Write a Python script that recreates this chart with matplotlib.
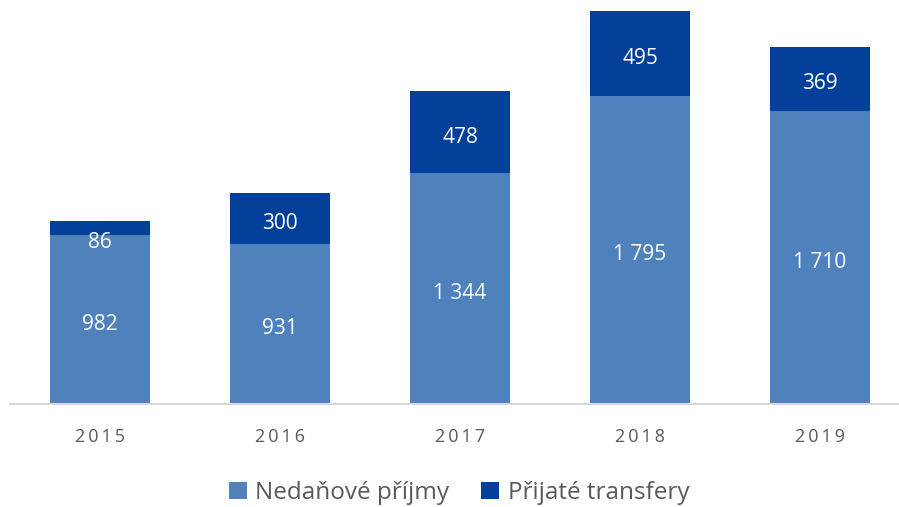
import matplotlib
matplotlib.use("Agg")
import matplotlib.pyplot as plt
import numpy as np

years = ["2015", "2016", "2017", "2018", "2019"]
nedanove = [982, 931, 1344, 1795, 1710]
transfery = [86, 300, 478, 495, 369]
legend_labels = ["Nedaňové příjmy", "Přijaté transfery"]

c_light = "#4f81bd"
c_dark = "#03409a"

plt.rcParams["font.family"] = ["Open Sans", "DejaVu Sans"]

fig = plt.figure(figsize=(8.99, 5.07), dpi=100)
ax = fig.add_axes([10 / 899, 103 / 507, 889 / 899, 404 / 507])

x = np.arange(len(years))
w = 0.56
b1 = ax.bar(x, nedanove, w, color=c_light, label=legend_labels[0])
b2 = ax.bar(x, transfery, w, bottom=nedanove, color=c_dark, label=legend_labels[1])

def fmt(v):
    return f"{v:,}".replace(",", " ")

# labels sit a few px below the segment centre, like the original
shift = 28
for i in range(len(years)):
    ax.text(x[i], nedanove[i] / 2 - shift, fmt(nedanove[i]), ha="center", va="center",
            color="white", fontsize=15)
    if transfery[i] < 150:
        # small segment: label sits just below the segment
        ax.text(x[i], nedanove[i] - 40, fmt(transfery[i]), ha="center", va="center",
                color="white", fontsize=15)
    else:
        ax.text(x[i], nedanove[i] + transfery[i] / 2 - shift, fmt(transfery[i]),
                ha="center", va="center", color="white", fontsize=15)

ax.set_xlim(-0.5, -0.5 + 889 / 180)
ax.set_ylim(0, 2354)
ax.set_yticks([])
ax.set_xticks(x)
ax.set_xticklabels(["\u2009".join(y) for y in years], fontsize=13, color="#595959")
ax.tick_params(axis="x", length=0, pad=17)
for s in ["top", "right", "left"]:
    ax.spines[s].set_visible(False)
ax.spines["bottom"].set_color("#d9d9d9")
ax.spines["bottom"].set_linewidth(1.5)

fig.legend(handles=[b1, b2], labels=legend_labels, loc="center",
           bbox_to_anchor=(459 / 899, 1 - 493 / 507), ncol=2, frameon=False,
           fontsize=17.5, labelcolor="#595959", handlelength=0.75, handleheight=0.75,
           handletextpad=0.35, columnspacing=1.3)

fig.savefig("out.png", dpi=100)
